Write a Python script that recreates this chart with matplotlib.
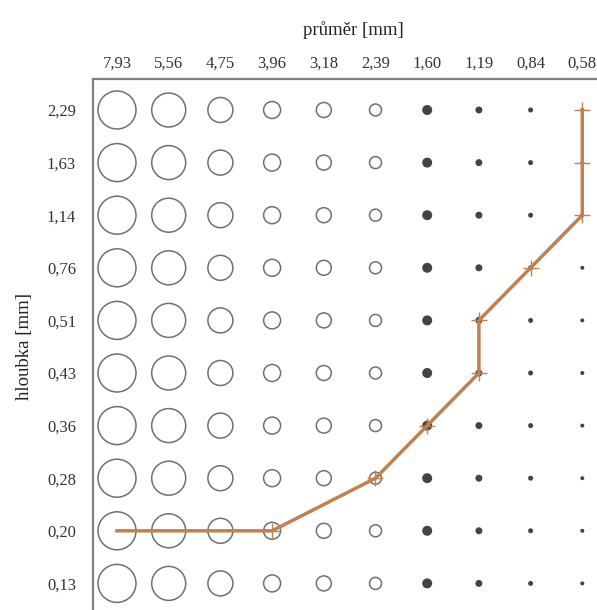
import matplotlib
matplotlib.use("Agg")
import matplotlib.pyplot as plt

# průměry (sloupce) a hloubky (řádky)
prumer = ["7,93", "5,56", "4,75", "3,96", "3,18", "2,39", "1,60", "1,19", "0,84", "0,58"]
hloubka = ["2,29", "1,63", "1,14", "0,76", "0,51", "0,43", "0,36", "0,28", "0,20", "0,13"]

# hranice - (průměr, hloubka) bodů čáry
hranice_x = ["7,93", "3,96", "2,39", "1,60", "1,19", "1,19", "0,84", "0,58", "0,58", "0,58"]
hranice_y = ["0,20", "0,20", "0,28", "0,36", "0,43", "0,51", "0,76", "1,14", "1,63", "2,29"]

# velikost značek v pixelech (průměr kroužku) a zda je plná
prumer_px = [38, 34, 25, 17, 15, 12, 10, 7, 5, 4]
plna = [False] * 6 + [True] * 4

W, H, DPI = 597, 610, 100
fig = plt.figure(figsize=(W / DPI, H / DPI), dpi=DPI)

# osa přesahuje obrázek vpravo a dole (výřez)
x0_px, dx_px = 117, 51.7
y0_px, dy_px = 110, 52.6
xlim = (-0.47, 9.6)
ylim = (9.6, -0.59)
left = (x0_px + dx_px * xlim[0]) / W
right = (x0_px + dx_px * xlim[1]) / W
top = 1 - (y0_px + dy_px * ylim[1]) / H
bottom = 1 - (y0_px + dy_px * ylim[0]) / H
ax = fig.add_axes([left, bottom, right - left, top - bottom])
ax.set_xlim(*xlim)
ax.set_ylim(*ylim)

font = dict(family="Liberation Serif", size=12)
font_lbl = dict(family="Liberation Serif", size=13.5)

for j, h in enumerate(hloubka):
    for i, p in enumerate(prumer):
        s = (prumer_px[i] * 72 / DPI) ** 2
        if plna[i]:
            ax.scatter(i, j, s=s, color="#444444", edgecolors="none", zorder=2)
        else:
            ax.scatter(i, j, s=s, facecolors="none", edgecolors="#707070",
                       linewidths=1.1, zorder=2)

hx = [prumer.index(v) for v in hranice_x]
hy = [hloubka.index(v) for v in hranice_y]
ax.plot(hx, hy, color="#c08050", lw=2.5, zorder=3, solid_joinstyle="round")
ax.plot(hx[1:], hy[1:], ls="none", marker="+", ms=11, mew=1.0,
        color="#c08050", zorder=4)

ax.xaxis.tick_top()
ax.xaxis.set_label_position("top")
ax.set_xticks(range(len(prumer)))
ax.set_xticklabels(prumer, **font)
ax.set_yticks(range(len(hloubka)))
ax.set_yticklabels(hloubka, **font)
ax.tick_params(length=0, colors="#333333")
ax.tick_params(axis="x", pad=5)
ax.tick_params(axis="y", pad=12)
ax.set_xlabel("průměr [mm]", labelpad=15, color="#222222", **font_lbl)
ax.set_ylabel("hloubka [mm]", labelpad=10, color="#222222", **font_lbl)

for sp in ax.spines.values():
    sp.set_color("#808080")
    sp.set_linewidth(1.6)

fig.savefig("out.png", dpi=DPI)
